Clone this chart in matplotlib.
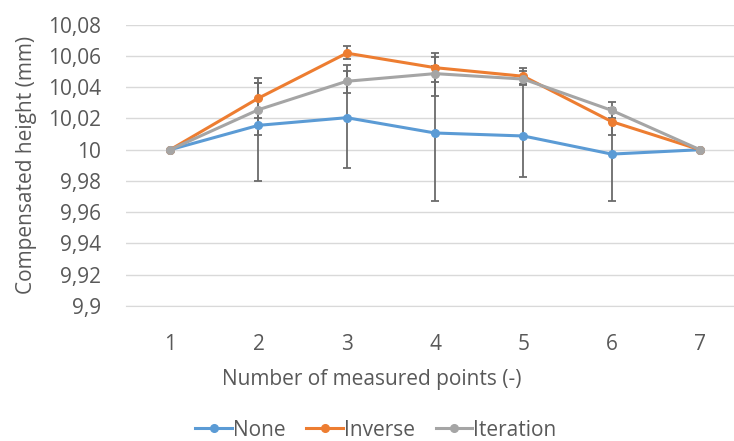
import matplotlib
matplotlib.use("Agg")
import matplotlib.pyplot as plt
from matplotlib.ticker import FuncFormatter, MultipleLocator

points = [1, 2, 3, 4, 5, 6, 7]
none_vals = [10.0, 10.0156, 10.0205, 10.0107, 10.0088, 9.9972, 10.0]
none_lo = [0, 0.0357, 0.0322, 0.0432, 0.0265, 0.0297, 0]
none_hi = [0, 0.0270, 0.0335, 0.0430, 0.0330, 0.0290, 0]
inverse_vals = [10.0, 10.0330, 10.0618, 10.0525, 10.0470, 10.0180, 10.0]
inverse_lo = [0, 0.0125, 0.0040, 0.0090, 0.0050, 0.0088, 0]
inverse_hi = [0, 0.0130, 0.0044, 0.0095, 0.0053, 0.0085, 0]
iteration_vals = [10.0, 10.0256, 10.0438, 10.0487, 10.0452, 10.0252, 10.0]
iteration_lo = [0, 0.0160, 0.0072, 0.0143, 0.0038, 0.0050, 0]
iteration_hi = [0, 0.0170, 0.0068, 0.0107, 0.0050, 0.0053, 0]
series_names = ["None", "Inverse", "Iteration"]
colors = ["#5B9BD5", "#ED7D31", "#A5A5A5"]

plt.rcParams['font.family'] = ['Open Sans', 'DejaVu Sans']
txt = "#595959"
fs = 15

fig = plt.figure(figsize=(7.34, 4.41), dpi=100)
ax = fig.add_axes([126/734, 1 - 306/441, 1 - 126/734, (306 - 24.7)/441])

data = [(none_vals, none_lo, none_hi), (inverse_vals, inverse_lo, inverse_hi),
        (iteration_vals, iteration_lo, iteration_hi)]
for (vals, lo, hi) in data:
    ax.errorbar(points, vals, yerr=[lo, hi], fmt='none', ecolor="#6b6b6b",
                elinewidth=1.3, capsize=3.2, capthick=1.3, zorder=2)
for i, ((vals, lo, hi), name, c) in enumerate(zip(data, series_names, colors)):
    ax.plot(points, vals, color=c, lw=2.2, marker='o', markersize=5.5,
            label=name, zorder=3 + i)

ax.set_xlim(0.5, 0.5 + (734 - 126) / 88.3)
ax.set_ylim(9.9, 10.08)
ax.yaxis.set_major_locator(MultipleLocator(0.02))
ax.set_xticks(points)

def fmt(v, pos):
    s = f"{v:.2f}".rstrip('0').rstrip('.')
    return s.replace('.', ',')
ax.yaxis.set_major_formatter(FuncFormatter(fmt))

ax.grid(axis='y', color="#d9d9d9", lw=1.0, zorder=0)
for s in ['top', 'right', 'left']:
    ax.spines[s].set_visible(False)
ax.spines['bottom'].set_color("#d9d9d9")
ax.tick_params(axis='both', length=0, labelsize=fs, colors=txt)
ax.tick_params(axis='x', pad=20)
ax.tick_params(axis='y', pad=18)

ax.set_xlabel("Number of measured points (-)", fontsize=fs, color=txt)
ax.xaxis.set_label_coords((372 - 126) / (734 - 126), -(380 - 306) / (306 - 24.7),
                          transform=ax.transAxes)
ax.xaxis.label.set_va('center')
ax.set_ylabel("Compensated height (mm)", fontsize=fs, color=txt, labelpad=8)

leg = fig.legend(loc='center', bbox_to_anchor=(376/734, 1 - 430/441), ncol=3,
                 frameon=False, fontsize=fs, handlelength=1.75,
                 columnspacing=1.0, handletextpad=0.05)
for t in leg.get_texts():
    t.set_color(txt)

fig.savefig("out.png", dpi=100)
